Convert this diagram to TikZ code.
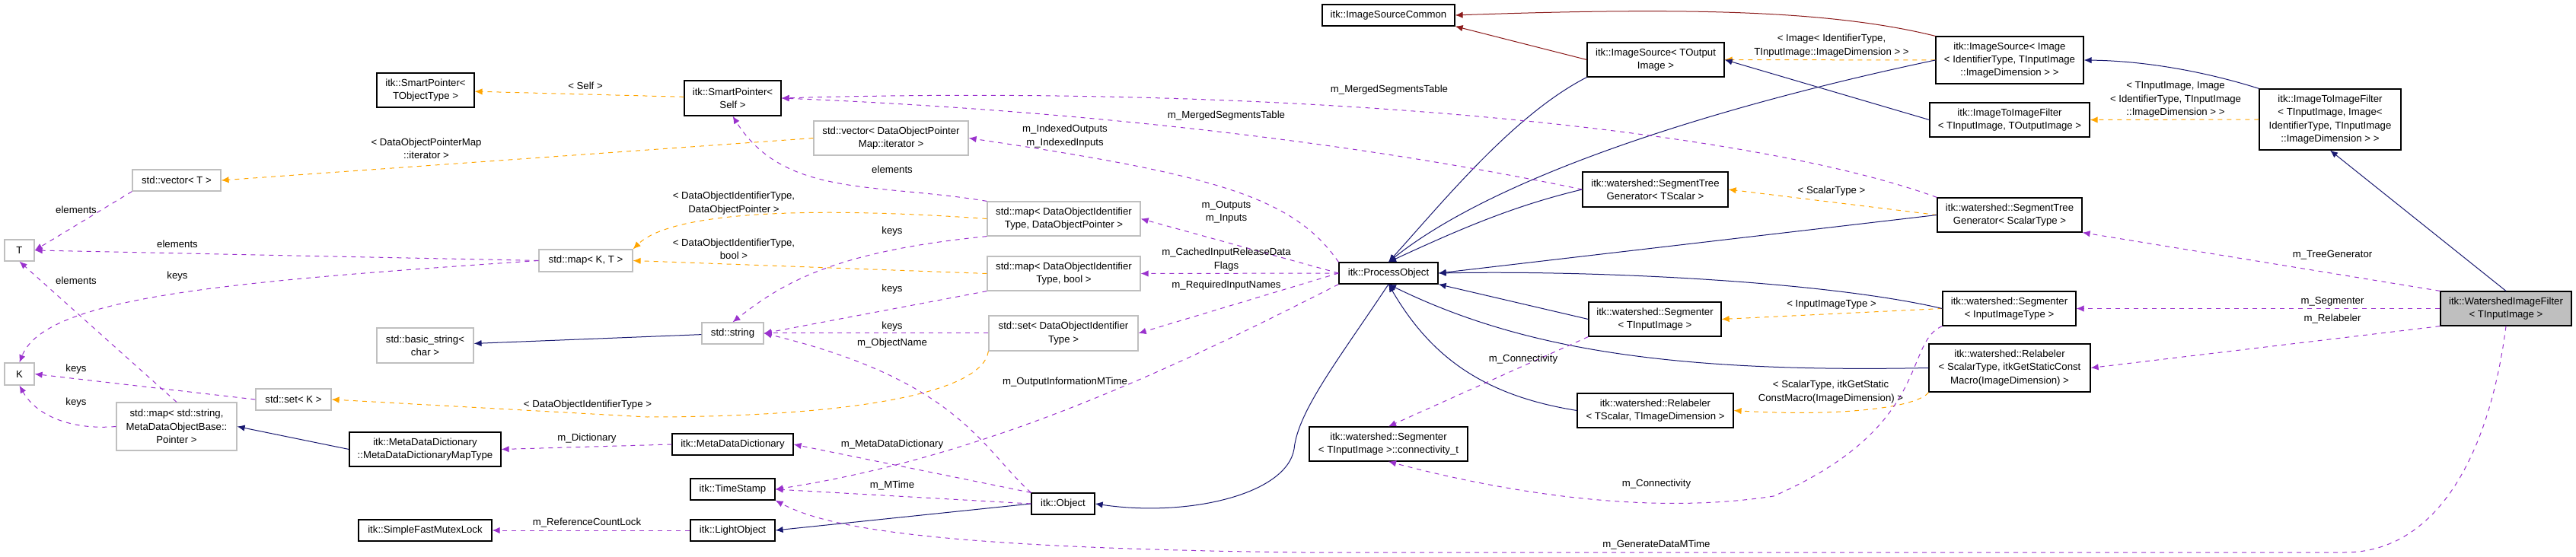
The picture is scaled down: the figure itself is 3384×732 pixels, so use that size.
\documentclass[tikz,border=0pt]{standalone}
\usepackage{fontspec}
\setmainfont{Liberation Sans}
\usetikzlibrary{arrows.meta}
\definecolor{nav}{HTML}{191970}
\definecolor{org}{HTML}{FFA500}
\definecolor{pur}{HTML}{9A32CD}
\definecolor{rd}{HTML}{8B1A1A}
\definecolor{gb}{HTML}{BFBFBF}
\newcommand\nd[7][]{\node[box,#1,minimum width={(#5-#3)*0.5pt},minimum height={(#6-#4)*0.5pt}] (#2) at ({(#3+#5)/2},{(#4+#6)/2}) {#7};}
\begin{document}
\begin{tikzpicture}[x=0.5pt,y=-0.5pt,
  box/.style={draw=black,line width=0.6pt,fill=white,inner sep=0pt,align=center,font=\fontsize{6.6}{8.7}\selectfont},
  lt/.style={draw=gb},
  lbl/.style={inner sep=0pt,align=center,font=\fontsize{6.6}{8.7}\selectfont},
  tip/.style={-{Latex[length=5pt,width=4.2pt]}},
  inh/.style={tip,draw=nav,line width=0.5pt,-{Latex[length=5pt,width=4.2pt,fill=nav]}},
  red/.style={draw=rd,line width=0.5pt,-{Latex[length=5pt,width=4.2pt,fill=rd]}},
  tpl/.style={draw=org,dashed,line width=0.5pt,-{Latex[length=5pt,width=4.2pt,fill=org]}},
  use/.style={draw=pur,dashed,line width=0.5pt,-{Latex[length=5pt,width=4.2pt,fill=pur]}}]
\useasboundingbox (0,0) rectangle (3384,732);
% nodes
\nd{sptot}{495}{96}{623}{141}{itk::SmartPointer<\\TObjectType >}
\nd[lt]{vecT}{174}{223}{290}{251}{std::vector< T >}
\nd[lt]{T}{6}{315}{45}{343}{T}
\nd[lt]{K}{6}{477}{45}{506}{K}
\nd[lt]{mapKT}{708}{328}{831}{357}{std::map< K, T >}
\nd[lt]{bstr}{495}{431}{622}{477}{std::basic\_string<\\char >}
\nd[lt]{setK}{336}{511}{435}{539}{std::set< K >}
\nd[lt]{mapstr}{153}{529}{311}{592}{std::map< std::string,\\MetaDataObjectBase::\\Pointer >}
\nd{mddmt}{459}{568}{658}{613}{itk::MetaDataDictionary\\::MetaDataDictionaryMapType}
\nd{sfml}{471}{683}{646}{711}{itk::SimpleFastMutexLock}
\nd{spself}{899}{106}{1026}{152}{itk::SmartPointer<\\Self >}
\nd[lt]{vecit}{1069}{159}{1272}{204}{std::vector< DataObjectPointer\\Map::iterator >}
\nd[lt]{mapdop}{1297}{265}{1498}{310}{std::map< DataObjectIdentifier\\Type, DataObjectPointer >}
\nd[lt]{mapbool}{1297}{337}{1498}{382}{std::map< DataObjectIdentifier\\Type, bool >}
\nd[lt]{setdoi}{1299}{415}{1495}{461}{std::set< DataObjectIdentifier\\Type >}
\nd[lt]{str}{922}{424}{1003}{452}{std::string}
\nd{mdd}{883}{570}{1042}{598}{itk::MetaDataDictionary}
\nd{ts}{907}{629}{1018}{657}{itk::TimeStamp}
\nd{lo}{907}{683}{1018}{711}{itk::LightObject}
\nd{obj}{1355}{648}{1438}{676}{itk::Object}
\nd{isc}{1737}{6}{1911}{34}{itk::ImageSourceCommon}
\nd{isout}{2085}{56}{2265}{101}{itk::ImageSource< TOutput\\Image >}
\nd{po}{1759}{345}{1889}{373}{itk::ProcessObject}
\nd{stgt}{2079}{226}{2270}{272}{itk::watershed::SegmentTree\\Generator< TScalar >}
\nd{segt}{2087}{397}{2261}{442}{itk::watershed::Segmenter\\< TInputImage >}
\nd{relt}{2072}{517}{2277}{562}{itk::watershed::Relabeler\\< TScalar, TImageDimension >}
\nd{conn}{1720}{561}{1928}{606}{itk::watershed::Segmenter\\< TInputImage >::connectivity\_t}
\nd{isimg}{2543}{48}{2737}{110}{itk::ImageSource< Image\\< IdentifierType, TInputImage\\::ImageDimension > >}
\nd{itif}{2535}{135}{2745}{180}{itk::ImageToImageFilter\\< TInputImage, TOutputImage >}
\nd{itifimg}{2968}{117}{3154}{197}{itk::ImageToImageFilter\\< TInputImage, Image<\\IdentifierType, TInputImage\\::ImageDimension > >}
\nd{stgs}{2545}{260}{2735}{305}{itk::watershed::SegmentTree\\Generator< ScalarType >}
\nd{segs}{2552}{383}{2727}{428}{itk::watershed::Segmenter\\< InputImageType >}
\nd{rels}{2534}{452}{2746}{515}{itk::watershed::Relabeler\\< ScalarType, itkGetStaticConst\\Macro(ImageDimension) >}
\nd[fill=gb]{ws}{3206}{383}{3378}{428}{itk::WatershedImageFilter\\< TInputImage >}
% template edges
\draw[tpl] (spself) -- (sptot);
\draw[tpl] (vecit.west) -- (vecT.east);
\draw[tpl] (mapdop.west) .. controls (1050,270) and (880,280) .. (mapKT.north east);
\draw[tpl] (mapbool.west) -- (mapKT.east);
\draw[tpl] (setdoi.south west) .. controls (1290,520) and (1100,548) .. (850,548) -- (setK.east);
\draw[tpl] (isimg.west) -- (isout.east);
\draw[tpl] (stgs.west) -- (stgt.east);
\draw[tpl] (segs.west) -- (segt.east);
\draw[tpl] (rels.south west) .. controls (2520,535) and (2420,548) .. (relt.east);
\draw[tpl] (itifimg.west) -- (itif.east);
% inheritance
\draw[inh] (str) -- (bstr);
\draw[inh] (mddmt.west) -- (mapstr.east);
\draw[inh] (obj.west) -- (lo.east);
\draw[inh] (po.south) .. controls (1760,470) and (1705,540) .. (1700,590) .. controls (1690,650) and (1560,680) .. (obj.east);
\draw[inh] (isout.south west) .. controls (1990,150) and (1900,260) .. (po.north);
\draw[inh] (isimg.west) .. controls (2300,130) and (1980,220) .. (po.north);
\draw[inh] (stgt.west) .. controls (1990,270) and (1920,300) .. (po.north);
\draw[inh] (stgs.west) -- (po.east);
\draw[inh] (segs.west) .. controls (2400,370) and (2100,355) .. (po.east);
\draw[inh] (segt.west) -- (po.south east);
\draw[inh] (rels.west) .. controls (2200,490) and (2000,460) .. (po.south);
\draw[inh] (relt.west) .. controls (1950,520) and (1880,470) .. (po.south);
\draw[inh] (itif.west) -- (isout.east);
\draw[inh] (itifimg.north west) .. controls (2900,95) and (2820,80) .. (isimg.east);
\draw[inh] (ws.north) -- (itifimg.south);
\draw[red] (isimg.north west) .. controls (2400,12) and (2200,10) .. (isc.east);
\draw[red] (isout.west) -- (isc.south east);
% usage
\draw[use] (vecT.south west) -- (T.east);
\draw[use] (mapKT.west) -- (T.east);
\draw[use] (mapstr.north) -- (T.south);
\draw[use] (mapKT.west) .. controls (300,370) and (60,390) .. (K.north);
\draw[use] (setK.west) -- (K.east);
\draw[use] (mapstr.west) .. controls (100,565) and (50,550) .. (K.south);
\draw[use] (mapdop.north west) .. controls (1150,240) and (1030,260) .. (spself.south);
\draw[use] (mapdop.south west) .. controls (1100,330) and (1030,370) .. (str.north);
\draw[use] (mapbool.south west) -- (str.east);
\draw[use] (setdoi.west) -- (str.east);
\draw[use] (obj.north west) .. controls (1290,590) and (1260,500) .. (str.east);
\draw[use] (po.north west) .. controls (1700,260) and (1600,230) .. (vecit.east);
\draw[use] (po.west) -- (mapdop.east);
\draw[use] (po.west) -- (mapbool.east);
\draw[use] (po.west) -- (setdoi.east);
\draw[use] (po.south west) .. controls (1550,480) and (1300,600) .. (ts.east);
\draw[use] (obj.north west) -- (mdd.east);
\draw[use] (obj.west) -- (ts.east);
\draw[use] (mdd.west) -- (mddmt.east);
\draw[use] (lo.west) -- (sfml.east);
\draw[use] (stgs.north west) .. controls (2300,170) and (1700,110) .. (spself.east);
\draw[use] (stgt.west) .. controls (1700,170) and (1300,140) .. (spself.east);
\draw[use] (segt.south west) -- (conn.north);
\draw[use] (segs.south west) .. controls (2500,450) and (2540,560) .. (2330,652) .. controls (2150,680) and (1950,640) .. (conn.south);
\draw[use] (ws.north west) -- (stgs.south east);
\draw[use] (ws.west) -- (segs.east);
\draw[use] (ws.south west) -- (rels.east);
\draw[use] (ws.south) .. controls (3270,600) and (3200,726) .. (3080,726) -- (1711,726) .. controls (1200,720) and (1080,690) .. (ts.south east);
% labels
\node[lbl] (l1) at (769,113) {< Self >};
\node[lbl] (l2) at (560,195) {< DataObjectPointerMap\\::iterator >};
\node[lbl] (l3) at (100,276) {elements};
\node[lbl] (l4) at (233,321) {elements};
\node[lbl] (l5) at (100,369) {elements};
\node[lbl] (l6) at (233,363) {keys};
\node[lbl] (l7) at (100,485) {keys};
\node[lbl] (l8) at (100,529) {keys};
\node[lbl] (l9) at (772,532) {< DataObjectIdentifierType >};
\node[lbl] (l10) at (771,576) {m\_Dictionary};
\node[lbl] (l11) at (771,687) {m\_ReferenceCountLock};
\node[lbl] (l12) at (1611,152) {m\_MergedSegmentsTable};
\node[lbl] (l13) at (1399,179) {m\_IndexedOutputs\\m\_IndexedInputs};
\node[lbl] (l14) at (1172,223) {elements};
\node[lbl] (l15) at (964,267) {< DataObjectIdentifierType,\\DataObjectPointer >};
\node[lbl] (l16) at (1172,304) {keys};
\node[lbl] (l17) at (964,327) {< DataObjectIdentifierType,\\bool >};
\node[lbl] (l18) at (1172,380) {keys};
\node[lbl] (l19) at (1172,429) {keys};
\node[lbl] (l20) at (1172,451) {m\_ObjectName};
\node[lbl] (l21) at (1611,279) {m\_Outputs\\m\_Inputs};
\node[lbl] (l22) at (1611,341) {m\_CachedInputReleaseData\\Flags};
\node[lbl] (l23) at (1611,375) {m\_RequiredInputNames};
\node[lbl] (l24) at (1399,502) {m\_OutputInformationMTime};
\node[lbl] (l25) at (1172,584) {m\_MetaDataDictionary};
\node[lbl] (l26) at (1172,638) {m\_MTime};
\node[lbl] (l27) at (1825,118) {m\_MergedSegmentsTable};
\node[lbl] (l28) at (2406,60) {< Image< IdentifierType,\\TInputImage::ImageDimension > >};
\node[lbl] (l29) at (2406,251) {< ScalarType >};
\node[lbl] (l30) at (2406,400) {< InputImageType >};
\node[lbl] (l31) at (2001,472) {m\_Connectivity};
\node[lbl] (l32) at (2405,515) {< ScalarType, itkGetStatic\\ConstMacro(ImageDimension) >};
\node[lbl] (l33) at (2176,636) {m\_Connectivity};
\node[lbl] (l34) at (2176,716) {m\_GenerateDataMTime};
\node[lbl] (l35) at (2858,131) {< TInputImage, Image\\< IdentifierType, TInputImage\\::ImageDimension > >};
\node[lbl] (l36) at (3064,335) {m\_TreeGenerator};
\node[lbl] (l37) at (3064,396) {m\_Segmenter};
\node[lbl] (l38) at (3064,419) {m\_Relabeler};
\end{tikzpicture}
\end{document}
